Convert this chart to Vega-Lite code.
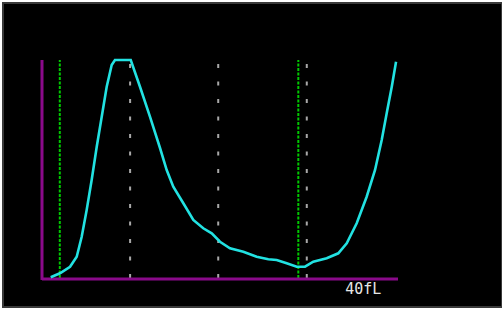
{
  "$schema": "https://vega.github.io/schema/vega-lite/v6.json",
  "width": 502,
  "height": 310,
  "autosize": {"type": "fit", "contains": "padding"},
  "padding": {"left": 3, "top": 3, "right": 0, "bottom": 3},
  "background": "white",
  "config": {"view": {"fill": "black", "stroke": "#3a3a3a", "strokeWidth": 2}},
  "datasets": {
    "curve": [
      {"fl": 0.98, "count": 0.32},
      {"fl": 2.02, "count": 2.16},
      {"fl": 3.15, "count": 5.18},
      {"fl": 3.90, "count": 9.77},
      {"fl": 4.46, "count": 18.94},
      {"fl": 5.02, "count": 31.19},
      {"fl": 5.58, "count": 44.95},
      {"fl": 6.15, "count": 60.23},
      {"fl": 6.71, "count": 73.99},
      {"fl": 7.27, "count": 87.75},
      {"fl": 7.83, "count": 97.71},
      {"fl": 8.20, "count": 100},
      {"fl": 9.97, "count": 100},
      {"fl": 11.01, "count": 87.75},
      {"fl": 12.13, "count": 73.99},
      {"fl": 13.26, "count": 59.63},
      {"fl": 14.01, "count": 49.54},
      {"fl": 14.75, "count": 41.88},
      {"fl": 15.88, "count": 34.27},
      {"fl": 17.0, "count": 26.61},
      {"fl": 18.12, "count": 22.8},
      {"fl": 19.07, "count": 20.5},
      {"fl": 20.0, "count": 16.65},
      {"fl": 21.12, "count": 13.62},
      {"fl": 22.62, "count": 12.06},
      {"fl": 24.12, "count": 9.77},
      {"fl": 25.43, "count": 8.58},
      {"fl": 26.37, "count": 8.26},
      {"fl": 27.49, "count": 6.74},
      {"fl": 28.62, "count": 5.18},
      {"fl": 29.55, "count": 5.18},
      {"fl": 30.48, "count": 7.48},
      {"fl": 31.99, "count": 9.04},
      {"fl": 33.29, "count": 11.33},
      {"fl": 34.24, "count": 15.92},
      {"fl": 35.36, "count": 25.09},
      {"fl": 36.48, "count": 37.29},
      {"fl": 37.42, "count": 49.54},
      {"fl": 38.17, "count": 63.3},
      {"fl": 38.73, "count": 75.55},
      {"fl": 39.3, "count": 87.75},
      {"fl": 39.78, "count": 99.22}
    ],
    "discriminators": [
      {"fl": 2.0, "low": 0, "high": 100},
      {"fl": 28.8, "low": 0, "high": 100}
    ],
    "gridlines": [
      {"fl": 9.9, "low": 0, "high": 99},
      {"fl": 19.8, "low": 0, "high": 99},
      {"fl": 29.75, "low": 0, "high": 99}
    ],
    "axes": [
      {"x1": 0, "x2": 0, "y1": -0.9, "y2": 100},
      {"x1": 0, "x2": 40, "y1": -0.4, "y2": -0.4}
    ],
    "label": [
      {"fl": 36.1, "count": -5.1, "text": "40fL"}
    ]
  },
  "layer": [
    {
      "data": {"name": "gridlines"},
      "mark": {"type": "rule", "color": "#a8a8a8", "strokeWidth": 2, "strokeDash": [4, 13.5]},
      "encoding": {
        "x": {"field": "fl", "type": "quantitative", "scale": {"domain": [-4.382, 51.685], "nice": false, "zero": false}, "axis": null},
        "y": {"field": "low", "type": "quantitative", "scale": {"domain": [-13.3, 126.15], "nice": false, "zero": false}, "axis": null},
        "y2": {"field": "high"}
      }
    },
    {
      "data": {"name": "discriminators"},
      "mark": {"type": "rule", "color": "#00c800", "strokeWidth": 2, "strokeDash": [3, 1.5]},
      "encoding": {
        "x": {"field": "fl", "type": "quantitative"},
        "y": {"field": "low", "type": "quantitative"},
        "y2": {"field": "high"}
      }
    },
    {
      "data": {"name": "axes"},
      "mark": {"type": "rule", "color": "#8a0a8a", "strokeWidth": 3},
      "encoding": {
        "x": {"field": "x1", "type": "quantitative"},
        "x2": {"field": "x2"},
        "y": {"field": "y1", "type": "quantitative"},
        "y2": {"field": "y2"}
      }
    },
    {
      "data": {"name": "curve"},
      "mark": {"type": "line", "color": "#22e2e2", "strokeWidth": 2.6, "interpolate": "linear"},
      "encoding": {
        "x": {"field": "fl", "type": "quantitative"},
        "y": {"field": "count", "type": "quantitative"}
      }
    },
    {
      "data": {"name": "label"},
      "mark": {"type": "text", "color": "#e6e6e6", "font": "DejaVu Sans Mono", "fontSize": 15, "align": "center", "baseline": "middle"},
      "encoding": {
        "x": {"field": "fl", "type": "quantitative"},
        "y": {"field": "count", "type": "quantitative"},
        "text": {"field": "text", "type": "nominal"}
      }
    }
  ]
}
